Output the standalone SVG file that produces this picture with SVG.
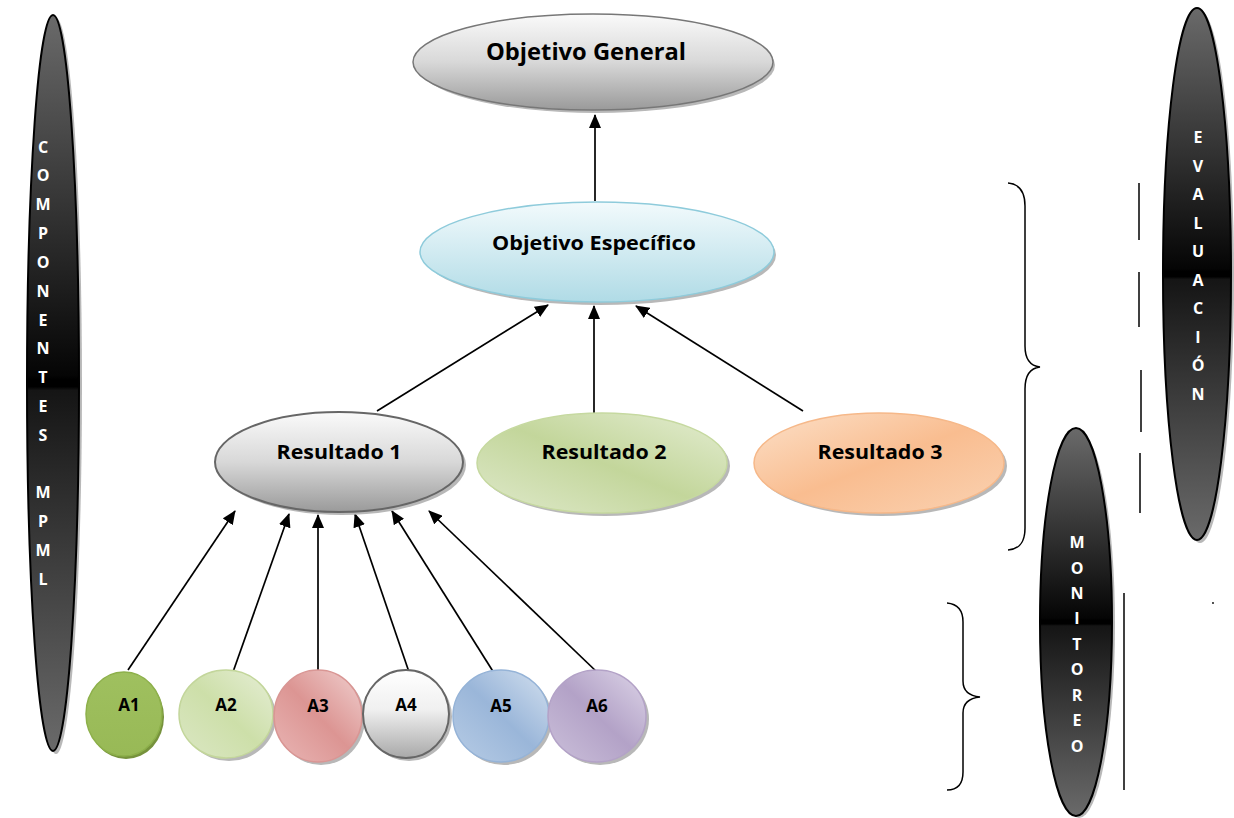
<svg xmlns="http://www.w3.org/2000/svg" width="1234" height="818" viewBox="0 0 1234 818">
<style>
  .lbl{font-family:"Open Sans","Liberation Sans",sans-serif;font-weight:bold;fill:#000;text-anchor:middle}
  .vt{font-family:"Open Sans","Liberation Sans",sans-serif;font-weight:bold;fill:#fff;text-anchor:middle;font-size:16px}
  .conn{stroke:#000;stroke-width:1.7;fill:none;marker-end:url(#ah)}
  .shadow{fill:#b8b8b8}
  .pill{stroke:#000;stroke-width:2;fill:url(#gDark)}
  .brace{stroke:#000;stroke-width:1.5;fill:none}
</style>
<defs>
  <marker id="ah" markerWidth="14" markerHeight="12" refX="13" refY="6" orient="auto" markerUnits="userSpaceOnUse">
    <path d="M0,0 L14,6 L0,12 Z" fill="#000"/>
  </marker>
  <linearGradient id="gDark" x1="0" y1="0" x2="0" y2="1">
    <stop offset="0" stop-color="#6a6a6a"/>
    <stop offset="0.49" stop-color="#050505"/>
    <stop offset="0.495" stop-color="#000"/>
    <stop offset="0.505" stop-color="#000"/>
    <stop offset="0.51" stop-color="#151515"/>
    <stop offset="1" stop-color="#6a6a6a"/>
  </linearGradient>
  <linearGradient id="gGray" x1="0" y1="0" x2="0" y2="1">
    <stop offset="0" stop-color="#fafafa"/>
    <stop offset="0.5" stop-color="#d8d8d8"/>
    <stop offset="1" stop-color="#9a9a9a"/>
  </linearGradient>
  <linearGradient id="gBlue" x1="0" y1="0" x2="0" y2="1">
    <stop offset="0" stop-color="#f2fafc"/>
    <stop offset="1" stop-color="#b0dbe6"/>
  </linearGradient>
  <linearGradient id="gGreen" x1="1" y1="0" x2="0" y2="1">
    <stop offset="0" stop-color="#e4edd2"/>
    <stop offset="0.5" stop-color="#c3d69b"/>
    <stop offset="1" stop-color="#dfe9cb"/>
  </linearGradient>
  <linearGradient id="gOrange" x1="0" y1="0" x2="1" y2="1">
    <stop offset="0" stop-color="#fce0c8"/>
    <stop offset="0.5" stop-color="#f9bd90"/>
    <stop offset="1" stop-color="#fad2b2"/>
  </linearGradient>
  <linearGradient id="gA1" x1="0" y1="0" x2="0" y2="1">
    <stop offset="0" stop-color="#9fc05f"/>
    <stop offset="1" stop-color="#98b956"/>
  </linearGradient>
  <linearGradient id="gA2" x1="1" y1="0" x2="0" y2="1">
    <stop offset="0" stop-color="#e6eed6"/>
    <stop offset="0.5" stop-color="#cddfa9"/>
    <stop offset="1" stop-color="#dbe7c4"/>
  </linearGradient>
  <linearGradient id="gA3" x1="1" y1="0" x2="0" y2="1">
    <stop offset="0" stop-color="#f0d0cf"/>
    <stop offset="0.5" stop-color="#dc9593"/>
    <stop offset="1" stop-color="#e9b6b5"/>
  </linearGradient>
  <linearGradient id="gA4" x1="0" y1="0" x2="0" y2="1">
    <stop offset="0" stop-color="#ffffff"/>
    <stop offset="0.45" stop-color="#f0f0f0"/>
    <stop offset="1" stop-color="#a8a8a8"/>
  </linearGradient>
  <linearGradient id="gA5" x1="1" y1="0" x2="0" y2="1">
    <stop offset="0" stop-color="#d3e0ef"/>
    <stop offset="0.5" stop-color="#9ab6d9"/>
    <stop offset="1" stop-color="#b7cce5"/>
  </linearGradient>
  <linearGradient id="gA6" x1="1" y1="0" x2="0" y2="1">
    <stop offset="0" stop-color="#ddd5e8"/>
    <stop offset="0.5" stop-color="#b3a2c7"/>
    <stop offset="1" stop-color="#cbc0da"/>
  </linearGradient>
</defs>
<rect width="1234" height="818" fill="#fff"/>

<!-- side pills -->
<g id="componentes">
  <ellipse class="shadow" cx="56" cy="386" rx="26" ry="368"/>
  <ellipse class="pill" cx="53" cy="383" rx="26" ry="368"/>
  <text class="vt"><tspan x="43" y="153">C</tspan><tspan x="43" y="181">O</tspan><tspan x="43" y="210">M</tspan><tspan x="43" y="239">P</tspan><tspan x="43" y="268">O</tspan><tspan x="43" y="297">N</tspan><tspan x="43" y="326">E</tspan><tspan x="43" y="354">N</tspan><tspan x="43" y="383">T</tspan><tspan x="43" y="412">E</tspan><tspan x="43" y="441">S</tspan><tspan x="43" y="498">M</tspan><tspan x="43" y="527">P</tspan><tspan x="43" y="556">M</tspan><tspan x="43" y="585">L</tspan></text>
</g>
<g id="evaluacion">
  <ellipse class="shadow" cx="1200" cy="277" rx="34" ry="266"/>
  <ellipse class="pill" cx="1197" cy="274" rx="34" ry="266"/>
  <text class="vt"><tspan x="1198" y="143">E</tspan><tspan x="1198" y="172">V</tspan><tspan x="1198" y="200">A</tspan><tspan x="1198" y="229">L</tspan><tspan x="1198" y="257">U</tspan><tspan x="1198" y="286">A</tspan><tspan x="1198" y="314">C</tspan><tspan x="1198" y="343">I</tspan><tspan x="1198" y="371">Ó</tspan><tspan x="1198" y="400">N</tspan></text>
</g>
<g id="monitoreo">
  <ellipse class="shadow" cx="1079" cy="625" rx="36" ry="193"/>
  <ellipse class="pill" cx="1076" cy="622" rx="36" ry="194"/>
  <text class="vt"><tspan x="1077" y="548">M</tspan><tspan x="1077" y="574">O</tspan><tspan x="1077" y="599">N</tspan><tspan x="1077" y="624">I</tspan><tspan x="1077" y="650">T</tspan><tspan x="1077" y="675">O</tspan><tspan x="1077" y="701">R</tspan><tspan x="1077" y="726">E</tspan><tspan x="1077" y="752">O</tspan></text>
</g>

<!-- braces and lines -->
<g id="braces">
  <path class="brace" d="M1008,183 C1020,184 1025,192 1025,206 L1025,346 C1025,360 1031,366 1040,367 C1031,368 1025,374 1025,389 L1025,528 C1025,542 1020,549 1008,550"/>
  <path class="brace" d="M947,603 C958,604 963,610 963,622 L963,681 C963,692 970,696 980,697 C970,698 963,702 963,713 L963,772 C963,784 958,790 947,790"/>
  <g stroke="#000" stroke-width="1.5">
    <line x1="1139" y1="183" x2="1139" y2="240"/>
    <line x1="1139" y1="272" x2="1139" y2="327"/>
    <line x1="1141" y1="370" x2="1141" y2="432"/>
    <line x1="1140" y1="453" x2="1140" y2="513"/>
    <line x1="1124" y1="593" x2="1124" y2="790"/>
  </g>
  <circle cx="1213" cy="603" r="0.9" fill="#000"/>
</g>

<!-- connectors -->
<g id="connectors">
  <line class="conn" x1="595" y1="201" x2="595" y2="115"/>
  <line class="conn" x1="377" y1="411" x2="548" y2="305"/>
  <line class="conn" x1="594" y1="413" x2="594" y2="306"/>
  <line class="conn" x1="803" y1="411" x2="636" y2="306"/>
  <line class="conn" x1="128" y1="670" x2="235" y2="511"/>
  <line class="conn" x1="233" y1="672" x2="289" y2="514"/>
  <line class="conn" x1="318" y1="672" x2="318" y2="515"/>
  <line class="conn" x1="409" y1="672" x2="355" y2="514"/>
  <line class="conn" x1="494" y1="673" x2="392" y2="511"/>
  <line class="conn" x1="598" y1="673" x2="429" y2="511"/>
</g>

<!-- main nodes -->
<g id="objetivo-general">
  <ellipse class="shadow" cx="596" cy="65" rx="179" ry="48"/>
  <ellipse cx="593" cy="62" rx="180" ry="48" fill="url(#gGray)" stroke="#777" stroke-width="1.5"/>
  <text class="lbl" x="586" y="60" font-size="23" textLength="200" lengthAdjust="spacingAndGlyphs">Objetivo General</text>
</g>
<g id="objetivo-especifico">
  <ellipse class="shadow" cx="600" cy="255" rx="176" ry="50"/>
  <ellipse cx="597" cy="252" rx="177" ry="50" fill="url(#gBlue)" stroke="#8ecbdb" stroke-width="1.5"/>
  <text class="lbl" x="594" y="250" font-size="20" textLength="204" lengthAdjust="spacingAndGlyphs">Objetivo Específico</text>
</g>
<g id="resultado-1">
  <ellipse class="shadow" cx="342" cy="465" rx="124" ry="50"/>
  <ellipse cx="339" cy="462" rx="124" ry="50" fill="url(#gGray)" stroke="#666" stroke-width="2"/>
  <text class="lbl" x="339" y="459" font-size="20" textLength="125" lengthAdjust="spacingAndGlyphs">Resultado 1</text>
</g>
<g id="resultado-2">
  <ellipse class="shadow" cx="605" cy="466" rx="125" ry="50"/>
  <ellipse cx="602" cy="463" rx="125" ry="50" fill="url(#gGreen)" stroke="#c6d9a0" stroke-width="1.5"/>
  <text class="lbl" x="604" y="459" font-size="20" textLength="125" lengthAdjust="spacingAndGlyphs">Resultado 2</text>
</g>
<g id="resultado-3">
  <ellipse class="shadow" cx="882" cy="466" rx="125" ry="50"/>
  <ellipse cx="879" cy="463" rx="125" ry="50" fill="url(#gOrange)" stroke="#f6b889" stroke-width="1.5"/>
  <text class="lbl" x="880" y="459" font-size="20" textLength="125" lengthAdjust="spacingAndGlyphs">Resultado 3</text>
</g>

<!-- activities -->
<g id="a1">
  <ellipse cx="126" cy="717" rx="38" ry="42" fill="#76923c"/>
  <ellipse cx="124" cy="714" rx="38" ry="42" fill="url(#gA1)" stroke="#8db04a" stroke-width="1.5"/>
  <text class="lbl" x="129" y="711" font-size="17">A1</text>
</g>
<g id="a2">
  <ellipse class="shadow" cx="229" cy="717" rx="47" ry="44"/>
  <ellipse cx="226" cy="714" rx="47" ry="44" fill="url(#gA2)" stroke="#c3d69b" stroke-width="1.5"/>
  <text class="lbl" x="226" y="711" font-size="17">A2</text>
</g>
<g id="a3">
  <ellipse class="shadow" cx="321" cy="719" rx="44" ry="46"/>
  <ellipse cx="318" cy="716" rx="44" ry="46" fill="url(#gA3)" stroke="#d99694" stroke-width="1.5"/>
  <text class="lbl" x="318" y="712" font-size="17">A3</text>
</g>
<g id="a4">
  <ellipse class="shadow" cx="409" cy="717" rx="43" ry="44"/>
  <ellipse cx="406" cy="714" rx="43" ry="44" fill="url(#gA4)" stroke="#666" stroke-width="2"/>
  <text class="lbl" x="406" y="711" font-size="17">A4</text>
</g>
<g id="a5">
  <ellipse class="shadow" cx="504" cy="719" rx="48" ry="46"/>
  <ellipse cx="501" cy="716" rx="48" ry="46" fill="url(#gA5)" stroke="#95b3d7" stroke-width="1.5"/>
  <text class="lbl" x="501" y="712" font-size="17">A5</text>
</g>
<g id="a6">
  <ellipse class="shadow" cx="600" cy="719" rx="49" ry="46"/>
  <ellipse cx="597" cy="716" rx="49" ry="46" fill="url(#gA6)" stroke="#b3a2c7" stroke-width="1.5"/>
  <text class="lbl" x="597" y="712" font-size="17">A6</text>
</g>
</svg>
